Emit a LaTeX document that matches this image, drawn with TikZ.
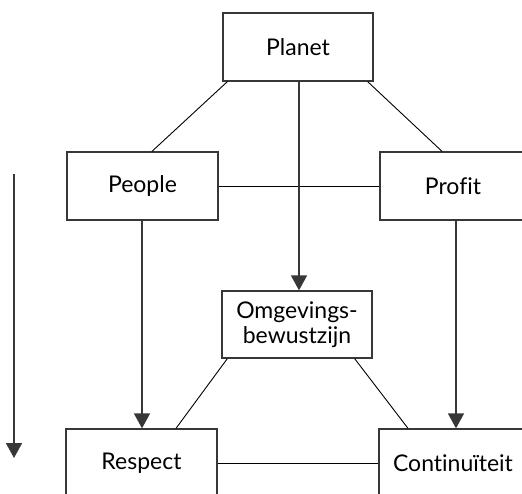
\documentclass[tikz,border=0pt]{standalone}
\usepackage{fontspec}
\setmainfont{Lato}[Ligatures=NoCommon]
\usetikzlibrary{arrows.meta}
\definecolor{edge}{RGB}{55,55,55}
\begin{document}
\begin{tikzpicture}[x=1pt,y=-1pt,
 box/.style={draw=edge, line width=1.3pt, minimum width=150pt, minimum height=68pt, inner sep=0pt, font=\fontsize{23}{25}\selectfont, align=center},
 link/.style={line width=0.9pt, black},
 arr/.style={draw=edge, line width=1.7pt, -{Triangle[length=15pt,width=16pt]}}]
\useasboundingbox (0,0) rectangle (522,494);
\clip (0,0) rectangle (522,494);
\node[box] (planet) at (298,47) {Planet};
\node[box, minimum width=151pt] (people) at (142.5,186) {People};
\node[box, minimum width=146pt] (profit) at (453,186) {Profit};
\node[box, minimum height=67pt] (omg) at (297,324.5) {Omgevings-\\bewustzijn};
\node[box, minimum width=151pt] (respect) at (141.5,463) {Respect};
\node[box, minimum width=148pt] (cont) at (453,463) {Continuïteit};
\coordinate (ltop) at (14,174);
\coordinate (lbot) at (14,458);
% lines
\draw[link] ([xshift=5pt]planet.south west) -- ([xshift=9.5pt]people.north);
\draw[link] ([xshift=-6pt]planet.south east) -- ([xshift=-11pt]profit.north);
\draw[link] (people.east) -- (profit.west);
\draw[link] ([xshift=6pt]omg.south west) -- ([xshift=34.5pt]respect.north);
\draw[link] ([xshift=-18pt]omg.south east) -- ([xshift=-45pt]cont.north);
\draw[link] (respect.east) -- (cont.west);
% arrows
\draw[arr] ([xshift=1pt]planet.south) -- ([xshift=1pt]planet.south |- omg.north);
\draw[arr] ([xshift=-0.5pt]people.south) -- ([xshift=-0.5pt]people.south |- respect.north);
\draw[arr] ([xshift=3pt]profit.south) -- ([xshift=3pt]profit.south |- cont.north);
\draw[arr] (ltop) -- (lbot);
\end{tikzpicture}
\end{document}
